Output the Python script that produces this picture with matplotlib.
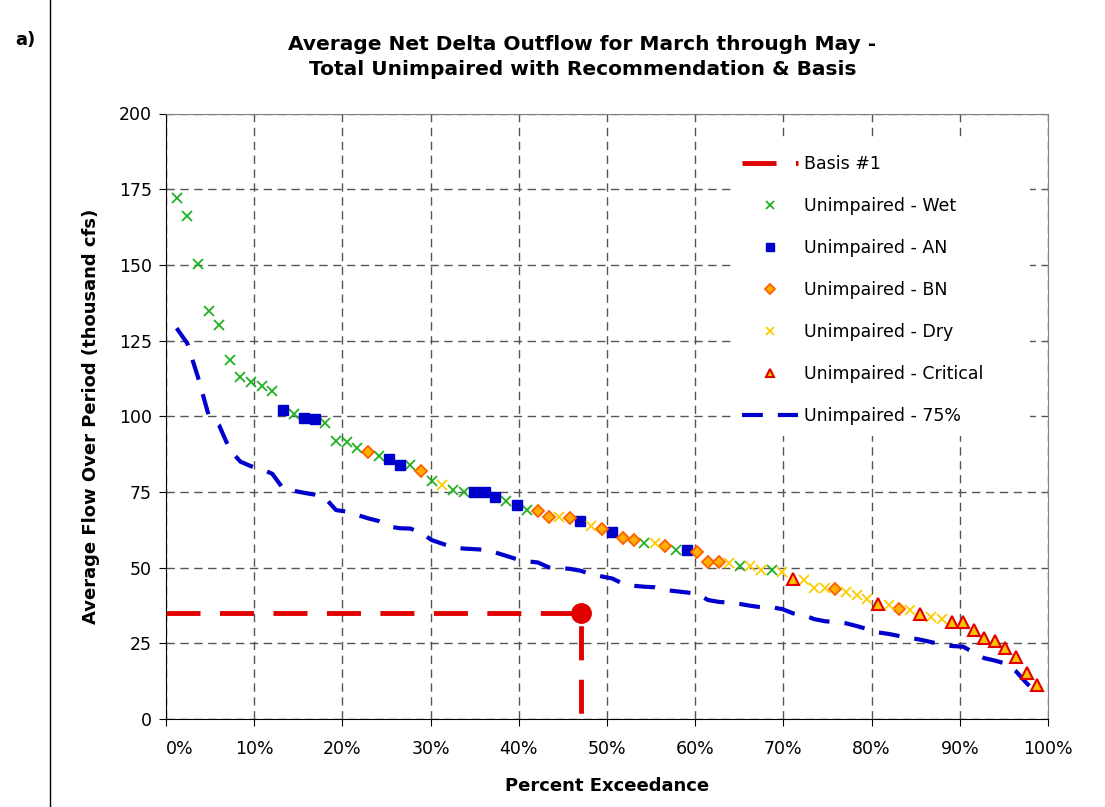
import matplotlib
matplotlib.use("Agg")
import matplotlib.pyplot as plt
from matplotlib.patches import Rectangle
from matplotlib.ticker import PercentFormatter
import numpy as np

# sorted March-May average net delta outflow (thousand cfs), unimpaired
flow = [172.2, 166.1, 150.3, 134.8, 130.1, 118.5, 113.0, 111.3, 110.1, 108.5,
        102.1, 100.6, 99.4, 99.0, 97.9, 91.9, 91.4, 89.6, 88.1, 87.0,
        86.0, 84.0, 83.9, 82.0, 78.7, 77.2, 75.7, 75.1, 74.9, 74.9,
        73.2, 72.1, 70.7, 69.0, 68.7, 66.7, 66.7, 66.4, 65.4, 63.8,
        62.8, 61.9, 59.7, 59.1, 58.0, 58.0, 57.0, 55.8, 55.8, 55.1,
        51.8, 51.8, 51.5, 50.6, 50.6, 49.2, 49.2, 48.7, 46.2, 45.9,
        43.4, 43.4, 43.1, 42.0, 40.9, 39.6, 37.9, 37.5, 36.4, 35.9,
        34.6, 33.8, 33.1, 32.1, 32.1, 29.4, 26.8, 25.6, 23.6, 20.4,
        15.2, 11.3]
year_type = ["W", "W", "W", "W", "W", "W", "W", "W", "W", "W",
             "AN", "W", "AN", "AN", "W", "W", "W", "W", "BN", "W",
             "AN", "AN", "W", "BN", "W", "D", "W", "W", "AN", "AN",
             "AN", "W", "AN", "W", "BN", "BN", "D", "BN", "AN", "D",
             "BN", "AN", "BN", "BN", "W", "D", "BN", "W", "AN", "BN",
             "BN", "BN", "D", "W", "D", "D", "W", "D", "C", "D",
             "D", "D", "BN", "D", "D", "D", "C", "D", "BN", "D",
             "C", "D", "D", "C", "C", "C", "C", "C", "C", "C",
             "C", "C"]

# 75% of unimpaired, sorted
flow_75 = [129.1, 124.1, 113.0, 100.5, 97.0, 89.0, 85.0, 83.5, 82.5, 81.0,
           76.2, 75.4, 74.7, 74.1, 72.9, 69.0, 68.5, 67.4, 66.3, 65.4,
           63.6, 63.0, 62.9, 61.5, 59.1, 57.9, 56.7, 56.3, 56.1, 55.9,
           55.0, 53.9, 52.8, 52.1, 51.7, 50.1, 49.9, 49.6, 49.0, 47.8,
           47.1, 46.4, 44.7, 44.0, 43.7, 43.5, 42.6, 42.2, 41.8, 41.3,
           39.3, 38.7, 38.4, 38.0, 37.4, 36.9, 36.9, 36.3, 34.9, 34.3,
           33.0, 32.3, 32.0, 31.6, 30.7, 29.7, 28.6, 28.1, 27.4, 26.8,
           26.2, 25.4, 24.6, 24.1, 23.9, 22.0, 20.1, 19.3, 18.3, 15.7,
           11.8, 8.5]

basis_x = [0.0, 0.47, 0.47]
basis_y = [35, 35, 0]

n = len(flow)
exceed = np.arange(1, n + 1) / (n + 1)
flow = np.array(flow)
year_type = np.array(year_type)

fig = plt.figure(figsize=(11.05, 8.07), dpi=100)
ax = fig.add_axes([166 / 1105, 1 - 719 / 807, 882 / 1105, 605.5 / 807])

ax.plot(basis_x, basis_y, color="#E00000", lw=3.5, linestyle=(0, (7, 4)),
        label="Basis #1", zorder=4)
ax.plot(basis_x[1], basis_y[1], "o", color="#E00000", ms=14, zorder=5)

styles = [
    ("W", "Unimpaired - Wet", dict(marker="x", color="#22B022", ms=7, mew=1.3, ls="none")),
    ("AN", "Unimpaired - AN", dict(marker="s", color="#0000CC", ms=7.5, ls="none")),
    ("BN", "Unimpaired - BN", dict(marker="D", mfc="#FFB000", mec="#FF6000", ms=6, mew=1.3, ls="none")),
    ("D", "Unimpaired - Dry", dict(marker="x", color="#FFCC00", ms=7, mew=1.3, ls="none")),
    ("C", "Unimpaired - Critical", dict(marker="^", mfc="#FFC000", mec="#E00000", ms=8, mew=1.5, ls="none")),
]
for code, label, kw in styles:
    m = year_type == code
    ax.plot(exceed[m], flow[m], label=label, zorder=3, **kw)

ax.plot(exceed, flow_75, color="#0000CC", lw=3, linestyle=(0, (5, 3.6)),
        label="Unimpaired - 75%", zorder=2)

ax.set_xlim(0, 1)
ax.set_ylim(0, 200)
ax.set_xticks(np.arange(0, 1.01, 0.1))
ax.set_yticks(np.arange(0, 201, 25))
ax.xaxis.set_major_formatter(PercentFormatter(1.0, decimals=0))
ax.tick_params(labelsize=12.5, length=5, direction="out", pad=5)
ax.tick_params(axis="x", pad=10)
ax.grid(True, color="#555555", lw=1, linestyle=(0, (6, 4)))
ax.set_axisbelow(True)
for s in ["top", "right"]:
    ax.spines[s].set_color("#808080")
ax.set_xlabel("Percent Exceedance", fontsize=13, fontweight="bold", labelpad=14)
ax.set_ylabel("Average Flow Over Period (thousand cfs)", fontsize=13,
              fontweight="bold", labelpad=14)

fig.canvas.draw()
ax.get_xticklabels()[0].set_horizontalalignment("left")

fig.text(0.527, 1 - 57 / 807, "Average Net Delta Outflow for March through May -\n"
         "Total Unimpaired with Recommendation & Basis",
         ha="center", va="center", fontsize=14.5, fontweight="bold", linespacing=1.35)
fig.text(15 / 1105, 1 - 40 / 807, "a)", fontsize=13, fontweight="bold", va="center")
fig.add_artist(plt.Line2D([50 / 1105, 50 / 1105], [0, 1], color="black", lw=1))

# white legend area (no border) hides the gridlines behind it
ax.add_patch(Rectangle((735 / 1105, 1 - 436 / 807), 295 / 1105, 296 / 807,
                       transform=fig.transFigure, facecolor="white",
                       edgecolor="none", zorder=1))
ax.legend(loc="upper left", bbox_to_anchor=(742 / 1105, 1 - 155 / 807),
          bbox_transform=fig.transFigure, frameon=False, fontsize=12.5,
          handlelength=3.2, handletextpad=0.35, labelspacing=1.38,
          markerscale=0.8, borderpad=0, borderaxespad=0)

fig.savefig("out.png", dpi=100)
